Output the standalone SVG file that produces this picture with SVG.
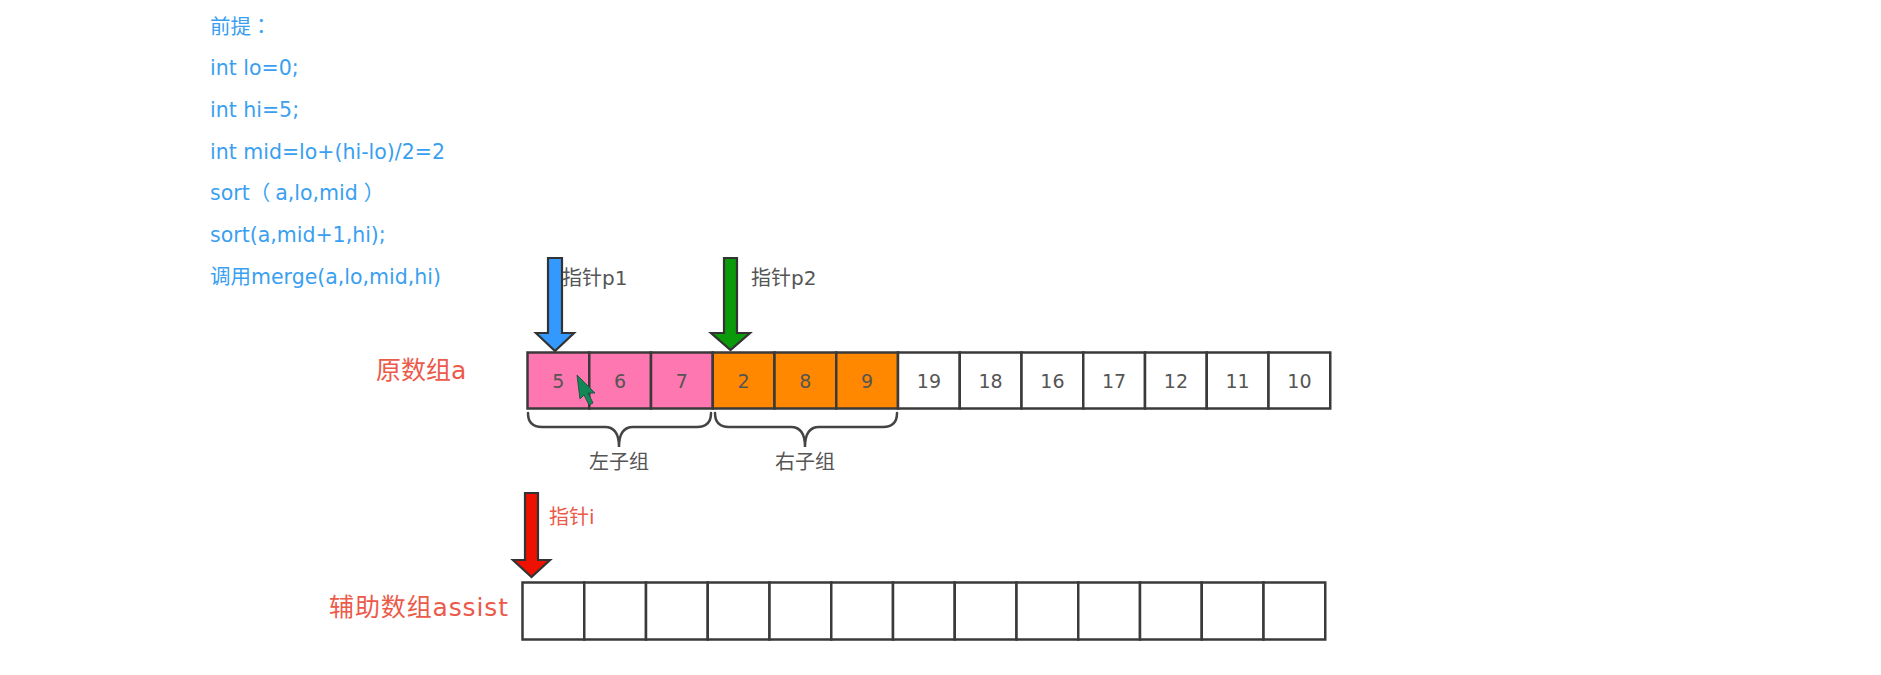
<svg xmlns="http://www.w3.org/2000/svg" width="1881" height="675" viewBox="0 0 1881 675">
<style>
.code{font-family:"DejaVu Sans","Noto Sans CJK SC",sans-serif;font-size:20.5px;fill:#3a9ff0}
.tc{font-family:"Noto Sans CJK TC",sans-serif}
.lbl{font-family:"DejaVu Sans","Noto Sans CJK SC",sans-serif;font-size:20px;fill:#555555}
.red{font-family:"DejaVu Sans","Noto Sans CJK SC",sans-serif;font-size:25px;fill:#ec5a4a}
.num{font-family:"DejaVu Sans","Noto Sans CJK SC",sans-serif;font-size:19px;fill:#555555;text-anchor:middle;dominant-baseline:central}
.cell{stroke:#3a3a3a;stroke-width:2.5}
.w{fill:#ffffff}.p{fill:#ff77b0}.o{fill:#ff8800}
.arrow{stroke:#333333;stroke-width:2.2;stroke-linejoin:miter}
.brace{fill:none;stroke:#444444;stroke-width:2.5;stroke-linecap:round}
</style>
<rect width="1881" height="675" fill="#ffffff"/>
<g id="code">
<text class="code" x="210" y="34">前提<tspan class="tc">：</tspan></text>
<text class="code" x="210" y="75">int lo=0;</text>
<text class="code" x="210" y="117">int hi=5;</text>
<text class="code" x="210" y="159">int mid=lo+(hi-lo)/2=2</text>
<text class="code" x="210" y="200">sort（<tspan dx="5">a,lo,mid</tspan><tspan dx="6">）</tspan></text>
<text class="code" x="210" y="242">sort(a,mid+1,hi);</text>
<text class="code" x="210" y="284">调用merge(a,lo,mid,hi)</text>
</g>
<g id="label-a"><text class="red" x="376" y="379">原数组a</text></g>
<g id="label-assist"><text class="red" x="329" y="616" textLength="179" lengthAdjust="spacing">辅助数组assist</text></g>
<g id="array-a">
<rect class="cell p" x="527.5" y="352.5" width="61.75" height="56"/>
<rect class="cell p" x="589.25" y="352.5" width="61.75" height="56"/>
<rect class="cell p" x="651" y="352.5" width="61.75" height="56"/>
<rect class="cell o" x="712.75" y="352.5" width="61.75" height="56"/>
<rect class="cell o" x="774.5" y="352.5" width="61.75" height="56"/>
<rect class="cell o" x="836.25" y="352.5" width="61.75" height="56"/>
<rect class="cell w" x="898" y="352.5" width="61.75" height="56"/>
<rect class="cell w" x="959.75" y="352.5" width="61.75" height="56"/>
<rect class="cell w" x="1021.5" y="352.5" width="61.75" height="56"/>
<rect class="cell w" x="1083.25" y="352.5" width="61.75" height="56"/>
<rect class="cell w" x="1145" y="352.5" width="61.75" height="56"/>
<rect class="cell w" x="1206.75" y="352.5" width="61.75" height="56"/>
<rect class="cell w" x="1268.5" y="352.5" width="61.75" height="56"/>
<text class="num" x="558.4" y="381">5</text>
<text class="num" x="620.1" y="381">6</text>
<text class="num" x="681.9" y="381">7</text>
<text class="num" x="743.6" y="381">2</text>
<text class="num" x="805.4" y="381">8</text>
<text class="num" x="867.1" y="381">9</text>
<text class="num" x="928.9" y="381">19</text>
<text class="num" x="990.6" y="381">18</text>
<text class="num" x="1052.4" y="381">16</text>
<text class="num" x="1114.1" y="381">17</text>
<text class="num" x="1175.9" y="381">12</text>
<text class="num" x="1237.6" y="381">11</text>
<text class="num" x="1299.4" y="381">10</text>
</g>
<g id="array-assist">
<rect class="cell w" x="522.5" y="582.5" width="61.75" height="57"/>
<rect class="cell w" x="584.25" y="582.5" width="61.75" height="57"/>
<rect class="cell w" x="646" y="582.5" width="61.75" height="57"/>
<rect class="cell w" x="707.75" y="582.5" width="61.75" height="57"/>
<rect class="cell w" x="769.5" y="582.5" width="61.75" height="57"/>
<rect class="cell w" x="831.25" y="582.5" width="61.75" height="57"/>
<rect class="cell w" x="893" y="582.5" width="61.75" height="57"/>
<rect class="cell w" x="954.75" y="582.5" width="61.75" height="57"/>
<rect class="cell w" x="1016.5" y="582.5" width="61.75" height="57"/>
<rect class="cell w" x="1078.25" y="582.5" width="61.75" height="57"/>
<rect class="cell w" x="1140" y="582.5" width="61.75" height="57"/>
<rect class="cell w" x="1201.75" y="582.5" width="61.75" height="57"/>
<rect class="cell w" x="1263.5" y="582.5" width="61.75" height="57"/>
</g>
<g id="braces">
<path class="brace" d="M528,413 Q528,427 542,427 L605,427 Q619,427 619,447 Q619,427 633,427 L697,427 Q711,427 711,413"/>
<text class="lbl" x="619" y="469" text-anchor="middle">左子组</text>
<path class="brace" d="M715,413 Q715,427 729,427 L791,427 Q805,427 805,447 Q805,427 819,427 L883,427 Q897,427 897,413"/>
<text class="lbl" x="805" y="469" text-anchor="middle">右子组</text>
</g>
<g id="pointer-p1">
<polygon class="arrow" fill="#3399ff" points="548,258 562,258 562,333 574,333 555,351 536,333 548,333"/>
<text class="lbl" x="562" y="285">指针p1</text>
</g>
<g id="pointer-p2">
<polygon class="arrow" fill="#0a9a0a" points="724,258 737,258 737,333 750,333 730.5,350 711,333 724,333"/>
<text class="lbl" x="751" y="285">指针p2</text>
</g>
<g id="pointer-i">
<polygon class="arrow" fill="#ee1100" points="525,493 538,493 538,560 550,560 531.5,577 513,560 525,560"/>
<text class="red" style="font-size:20px" x="549" y="524">指针i</text>
</g>
<g id="cursor">
<polygon points="577,375 580,399 584,395 589,405 593,403 588,393 595,393" fill="#118855" stroke="#225544" stroke-width="1"/>
</g>
</svg>
